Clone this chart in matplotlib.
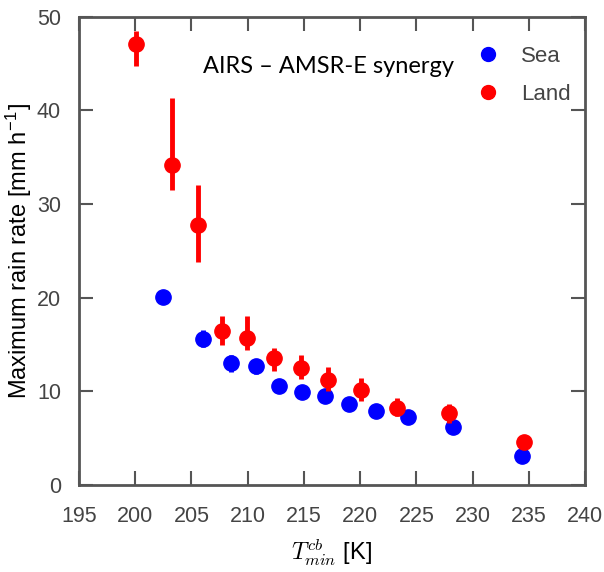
import numpy as np
import matplotlib
matplotlib.rcdefaults()
import matplotlib.pyplot as plt
from matplotlib.lines import Line2D
from matplotlib import font_manager

# narrow Arial-like font if there is one, else plain Liberation Sans a bit smaller
names = {f.name for f in font_manager.fontManager.ttflist}
if "Liberation Sans Narrow" in names:
    FONT, FS = "Liberation Sans Narrow", 18
else:
    FONT, FS = "Liberation Sans", 15.5

plt.rcParams.update({
    "font.family": [FONT, "DejaVu Sans"],
    "mathtext.fontset": "cm",
    "axes.edgecolor": "#555555",
    "axes.linewidth": 2.0,
    "xtick.color": "#555555",
    "ytick.color": "#555555",
    "xtick.labelcolor": "#444444",
    "ytick.labelcolor": "#444444",
    "text.color": "#444444",
})

# Sea (blue)
sea_t = [202.5, 206.0, 208.5, 210.7, 212.8, 214.8, 216.9, 219.05, 221.4, 224.3, 228.3, 234.4]
sea_r = [20.1, 15.6, 13.0, 12.7, 10.6, 9.9, 9.5, 8.7, 7.9, 7.3, 6.2, 3.1]
sea_lo = [0.3, 0.9, 0.9, 0.8, 0.6, 0.6, 0.6, 0.5, 0.5, 0.5, 0.5, 0.4]
sea_hi = [0.3, 0.9, 0.9, 0.8, 0.6, 0.6, 0.6, 0.5, 0.5, 0.5, 0.5, 0.4]

# Land (red)
land_t = [200.05, 203.3, 205.55, 207.7, 209.9, 212.35, 214.7, 217.15, 220.05, 223.3, 227.9, 234.6]
land_r = [47.05, 34.2, 27.8, 16.4, 15.7, 13.6, 12.45, 11.2, 10.1, 8.25, 7.7, 4.55]
land_lo = [2.3, 2.7, 4.0, 1.4, 1.3, 1.4, 1.15, 1.2, 1.1, 0.85, 1.1, 0.3]
land_hi = [1.4, 7.1, 4.2, 1.6, 2.3, 1.0, 1.45, 1.4, 1.3, 1.05, 1.0, 0.3]

xticks = np.arange(195, 241, 5)
yticks = np.arange(0, 51, 10)

fig = plt.figure(figsize=(6.04, 5.72), dpi=100)
ax = fig.add_axes([0.1308, 0.152, 0.8377, 0.8188])

ax.errorbar(sea_t, sea_r, yerr=[sea_lo, sea_hi], fmt="o", color="#0000ff",
            markersize=11, elinewidth=3.5, capsize=0, zorder=3)
ax.errorbar(land_t, land_r, yerr=[land_lo, land_hi], fmt="o", color="#ff0000",
            markersize=11, elinewidth=3.5, capsize=0, zorder=4)

ax.set_xlim(195, 240)
ax.set_ylim(0, 50)
ax.set_xticks(xticks)
ax.set_yticks(yticks)
ax.tick_params(direction="in", length=10, width=1.5, labelsize=FS,
               top=True, right=True)
ax.tick_params(axis="x", pad=15)
ax.tick_params(axis="y", pad=13)

ax.set_ylabel("Maximum rain rate [mm h$^{\\mathregular{-1}}$]", fontsize=FS + 1.5,
              labelpad=2)
ax.set_xlabel("$T^{cb}_{min}$ [K]", fontsize=FS + 1.5, labelpad=7)

ax.text(0.245, 0.893, "AIRS \u2013 AMSR-E synergy", transform=ax.transAxes,
        fontsize=17, color="black", family=["Lato", "DejaVu Sans"],
        ha="left", va="center")

handles = [
    Line2D([], [], marker="o", linestyle="none", color="#0000ff", markersize=10),
    Line2D([], [], marker="o", linestyle="none", color="#ff0000", markersize=10),
]
ax.legend(handles, ["Sea", "Land"], loc="upper left", frameon=False,
          fontsize=FS + 0.5, handlelength=1.0, handletextpad=1.0,
          labelspacing=0.75, borderpad=0, borderaxespad=0,
          bbox_to_anchor=(0.786, 0.937))

plt.savefig("out.png", dpi=100, facecolor="white")
